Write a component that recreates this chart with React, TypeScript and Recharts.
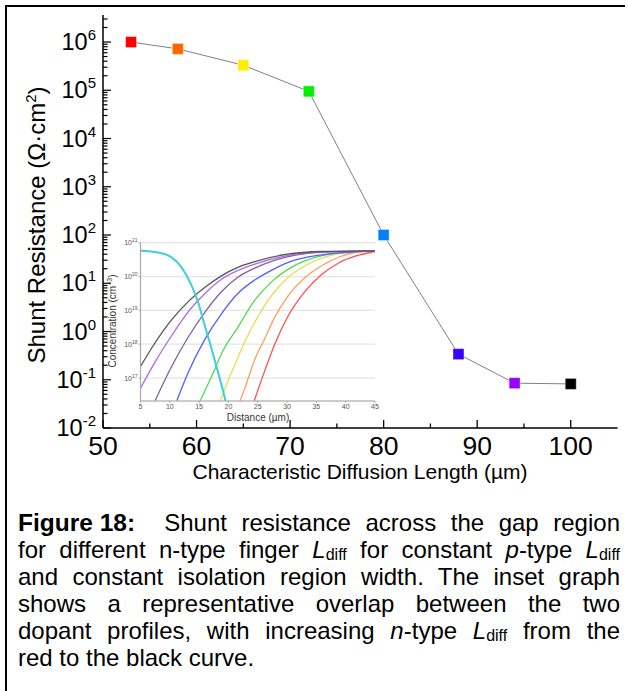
import { LineChart, Line, XAxis, YAxis, CartesianGrid } from 'recharts';

// main plot: n-type finger L_diff (µm) vs shunt resistance (Ω·cm²)
const diffLength = [53, 58, 65, 72, 80, 88, 94, 100];
const shuntResistance = [1e6, 7.2e5, 3.3e5, 9.5e4, 100, 0.34, 0.085, 0.082];
const pointColors = ['#ff0000', '#ff6600', '#ffee00', '#00ee00', '#0080ff', '#3a00ff', '#9900ff', '#000000'];

const xTicks = [50, 55, 60, 65, 70, 75, 80, 85, 90, 95, 100];
const yDecades = [-2, -1, 0, 1, 2, 3, 4, 5, 6];

// inset: dopant profiles, [distance µm, concentration cm^-3]
const curveRed = [[24.4, 2.14e16], [26.2, 1.66e17], [27.9, 1.0e18], [30.2, 6.92e18], [33.1, 3.72e19], [35.9, 1.15e20], [38.8, 2.51e20], [41.6, 3.98e20], [45, 5.5e20]];
const curveOrange = [[22.0, 2.14e16], [23, 6.31e16], [24.5, 3.55e17], [26.2, 1.48e18], [27.9, 6.31e18], [30.2, 2.75e19], [33.1, 9.55e19], [35.9, 2.09e20], [38.8, 3.72e20], [41.6, 5.13e20], [45, 5.75e20]];
const curveYellow = [[18.6, 2.14e16], [20, 8.91e16], [21.6, 3.98e17], [23, 1.41e18], [24.5, 4.47e18], [27.4, 2.82e19], [30.2, 9.55e19], [33.1, 2.09e20], [35.9, 3.47e20], [39.3, 4.9e20], [45, 5.75e20]];
const curveGreen = [[15.2, 2.14e16], [17, 1.0e17], [19.2, 7.08e17], [21.6, 3.16e18], [24.5, 2.0e19], [27.4, 7.08e19], [30.2, 1.66e20], [33.1, 2.95e20], [36, 4.17e20], [40, 5.25e20], [45, 5.75e20]];
const curveBlue = [[11.2, 2.14e16], [13.1, 1.41e17], [16, 1.41e18], [18.8, 7.94e18], [21.6, 3.16e19], [24.5, 7.94e19], [27.5, 1.58e20], [30.2, 2.63e20], [35.9, 4.37e20], [41.6, 5.37e20], [45, 5.75e20]];
const curveSlate = [[7.5, 2.14e16], [10.3, 2.19e17], [13.1, 1.58e18], [16, 8.91e18], [18.8, 3.55e19], [21.6, 9.55e19], [24.5, 1.78e20], [30, 3.8e20], [36, 5.25e20], [45, 5.75e20]];
const curveViolet = [[5, 5.0e16], [7.4, 2.82e17], [10.3, 1.78e18], [13.1, 8.91e18], [16, 3.16e19], [18.8, 8.32e19], [21.6, 1.51e20], [24.5, 2.34e20], [30, 4.17e20], [36, 5.37e20], [45, 5.75e20]];
const curveBlack = [[5, 2.19e17], [7.4, 1.05e18], [10.3, 5.25e18], [13.1, 1.78e19], [16, 4.79e19], [18.8, 1.05e20], [21.6, 1.86e20], [24.5, 2.75e20], [30, 4.57e20], [36, 5.5e20], [45, 5.75e20]];
const curveCyan = [[5, 5.75e20], [8, 5.1e20], [10.3, 3.7e20], [12, 1.86e20], [13.7, 5.5e19], [14.8, 1.8e19], [15.95, 3.6e18], [17.1, 7.6e17], [18.2, 1.55e17], [19.25, 3.2e16], [19.5, 2.1e16]];

const insetXTicks = [5, 10, 15, 20, 25, 30, 35, 40, 45];
const insetDecades = [17, 18, 19, 20, 21];

const FONT = '"Liberation Sans", Arial, sans-serif';
const MAIN = { width: 628, height: 480, left: 103, right: 617.5, top: 15, bottom: 428 };
const INSET = { left: 100, top: 230, width: 285, height: 197, plotLeft: 40.5, plotBottom: 171 };

const mainData = diffLength.map((x, i) => ({ x, r: shuntResistance[i], color: pointColors[i] }));

const yTicks: number[] = [];
yDecades.forEach((d) => {
  yTicks.push(Number((10 ** d).toPrecision(3)));
  for (let m = 2; m <= 9; m++) {
    const v = Number((m * 10 ** d).toPrecision(3));
    if (v < 3.6e6) yTicks.push(v);
  }
});

const insetSeries = [
  { name: 'red', data: curveRed, color: '#ff5050' },
  { name: 'orange', data: curveOrange, color: '#ff9e5e' },
  { name: 'yellow', data: curveYellow, color: '#e6dc50' },
  { name: 'green', data: curveGreen, color: '#4ddd4d' },
  { name: 'blue', data: curveBlue, color: '#5060ff' },
  { name: 'slate', data: curveSlate, color: '#80609f' },
  { name: 'violet', data: curveViolet, color: '#b266e6' },
  { name: 'black', data: curveBlack, color: '#555555' },
];

function isDecade(v: number) {
  const e = Math.log10(v);
  return Math.abs(e - Math.round(e)) < 1e-6;
}

function BottomTick(props: any) {
  const { x, payload } = props;
  const major = payload.value % 10 === 0;
  return (
    <g>
      <line x1={x} x2={x} y1={MAIN.bottom} y2={MAIN.bottom - (major ? 8 : 4.5)} stroke="#000" strokeWidth={1.3} />
      {major && (
        <text x={x} y={MAIN.bottom + 27} textAnchor="middle" fontSize={26.5} fontFamily={FONT} fill="#000">
          {payload.value}
        </text>
      )}
    </g>
  );
}

function TopTick(props: any) {
  const { x, payload } = props;
  const major = payload.value % 10 === 0;
  return <line x1={x} x2={x} y1={MAIN.top} y2={MAIN.top + (major ? 8 : 4.5)} stroke="#000" strokeWidth={1.3} />;
}

function LeftTick(props: any) {
  const { y, payload } = props;
  const major = isDecade(payload.value);
  const e = Math.round(Math.log10(payload.value));
  return (
    <g>
      <line x1={MAIN.left} x2={MAIN.left + (major ? 8 : 4.5)} y1={y} y2={y} stroke="#000" strokeWidth={1.2} />
      {major && (
        <text x={96} y={y + 8} textAnchor="end" fontSize={23.5} fontFamily={FONT} fill="#000">
          10<tspan dy={-10} fontSize={15}>{e}</tspan>
        </text>
      )}
    </g>
  );
}

function RightTick(props: any) {
  const { y, payload } = props;
  const major = isDecade(payload.value);
  return <line x1={MAIN.right} x2={MAIN.right - (major ? 8 : 4.5)} y1={y} y2={y} stroke="#000" strokeWidth={1.2} />;
}

function Square(props: any) {
  const { cx, cy, payload, index } = props;
  return (
    <rect key={`sq-${index}`} x={cx - 5.5} y={cy - 5.5} width={11} height={11} fill={payload.color} stroke="#fff" strokeOpacity={0.4} strokeWidth={1} />
  );
}

function InsetXTick(props: any) {
  const { x, payload } = props;
  return (
    <g>
      <line x1={x} x2={x} y1={INSET.plotBottom} y2={INSET.plotBottom + 2} stroke="#999" strokeWidth={0.8} />
      <text x={x} y={INSET.plotBottom + 8} textAnchor="middle" fontSize={7} fontFamily={FONT} fill="#555">
        {payload.value}
      </text>
    </g>
  );
}

function InsetYTick(props: any) {
  const { y, payload } = props;
  const e = Math.round(Math.log10(payload.value));
  return (
    <g>
      <line x1={INSET.plotLeft} x2={INSET.plotLeft - 2} y1={y} y2={y} stroke="#999" strokeWidth={0.8} />
      <text x={INSET.plotLeft - 3} y={y + 2.5} textAnchor="end" fontSize={7} fontFamily={FONT} fill="#555">
        10<tspan dy={-3} fontSize={5}>{e}</tspan>
      </text>
    </g>
  );
}

function MainChart() {
  const axisLine = { stroke: '#000', strokeWidth: 1.5 };
  return (
    <LineChart width={MAIN.width} height={MAIN.height} data={mainData} margin={{ top: 15, right: 10.5, bottom: 12, left: 0 }}>
      <XAxis dataKey="x" type="number" domain={[50, 105]} ticks={xTicks} interval={0} height={40} tickLine={false} axisLine={axisLine} tick={BottomTick} allowDataOverflow />
      <XAxis xAxisId="top" orientation="top" dataKey="x" type="number" domain={[50, 105]} ticks={xTicks} interval={0} height={0} tickLine={false} axisLine={axisLine} tick={TopTick} allowDataOverflow />
      <YAxis dataKey="r" type="number" scale="log" domain={[0.01, 3.63e6]} ticks={yTicks} interval={0} width={103} tickLine={false} axisLine={axisLine} tick={LeftTick} allowDataOverflow />
      <YAxis yAxisId="right" orientation="right" type="number" scale="log" domain={[0.01, 3.63e6]} ticks={yTicks} interval={0} width={0} tickLine={false} axisLine={axisLine} tick={RightTick} allowDataOverflow />
      <Line type="linear" dataKey="r" stroke="#808080" strokeWidth={1} dot={Square} activeDot={false} isAnimationActive={false} />
    </LineChart>
  );
}

function InsetChart() {
  const frame = { stroke: '#a8a8a8', strokeWidth: 1.2 };
  return (
    <LineChart width={INSET.width} height={INSET.height} margin={{ top: 12.7, right: 10, bottom: 0, left: 0 }}>
      <CartesianGrid vertical={false} stroke="#e4e4e4" strokeWidth={1.2} />
      <XAxis dataKey="x" type="number" domain={[5, 45]} ticks={insetXTicks} interval={0} height={26} tickLine={false} axisLine={frame} tick={InsetXTick} allowDataOverflow />
      <XAxis xAxisId="top" orientation="top" dataKey="x" type="number" domain={[5, 45]} height={0} tick={false} tickLine={false} axisLine={frame} allowDataOverflow />
      <YAxis dataKey="y" type="number" scale="log" domain={[2.1e16, 1e21]} ticks={insetDecades.map((d) => 10 ** d)} interval={0} width={40.5} tickLine={false} axisLine={frame} tick={InsetYTick} allowDataOverflow />
      <YAxis yAxisId="right" orientation="right" type="number" scale="log" domain={[2.1e16, 1e21]} width={0} tick={false} tickLine={false} axisLine={frame} allowDataOverflow />
      {insetSeries.map((s) => (
        <Line key={s.name} data={s.data.map(([x, y]) => ({ x, y }))} type="monotone" dataKey="y" stroke={s.color} strokeWidth={1.3} dot={false} activeDot={false} isAnimationActive={false} />
      ))}
      <Line data={curveCyan.map(([x, y]) => ({ x, y }))} type="monotone" dataKey="y" stroke="#3fcfd6" strokeWidth={2} dot={false} activeDot={false} isAnimationActive={false} />
    </LineChart>
  );
}

const sub = { fontSize: 16, fontStyle: 'normal' as const, position: 'relative' as const, top: 2, lineHeight: 0 };
const captionLine = { height: 27, textAlign: 'justify' as const, textAlignLast: 'justify' as const };

export default function App() {
  return (
    <div style={{ position: 'absolute', left: 0, top: 0, width: 628, height: 691, background: '#fff', overflow: 'hidden', fontFamily: FONT, color: '#000' }}>
      <div style={{ position: 'absolute', left: 5, top: 5, width: 618, height: 720, borderTop: '2.5px solid #000', borderLeft: '2.5px solid #000' }} />
      <div style={{ position: 'absolute', left: 0, top: 0 }}>
        <MainChart />
      </div>
      <div style={{ position: 'absolute', left: 37, top: 225, transform: 'translate(-50%, -50%) rotate(-90deg)', whiteSpace: 'nowrap', fontSize: 24, lineHeight: 1 }}>
        Shunt Resistance (Ω·cm<sup style={{ fontSize: 15, lineHeight: 0 }}>2</sup>)
      </div>
      <div style={{ position: 'absolute', left: 360, top: 471, transform: 'translate(-50%, -50%)', whiteSpace: 'nowrap', fontSize: 21, lineHeight: 1 }}>
        Characteristic Diffusion Length (µm)
      </div>
      <div style={{ position: 'absolute', left: INSET.left, top: INSET.top }}>
        <InsetChart />
      </div>
      <div style={{ position: 'absolute', left: 113, top: 321, transform: 'translate(-50%, -50%) rotate(-90deg)', whiteSpace: 'nowrap', fontSize: 10, color: '#333', lineHeight: 1 }}>
        Concentration (cm<sup style={{ fontSize: 7, lineHeight: 0 }}>−3</sup>)
      </div>
      <div style={{ position: 'absolute', left: 258, top: 418, transform: 'translate(-50%, -50%)', whiteSpace: 'nowrap', fontSize: 10, color: '#333', lineHeight: 1 }}>
        Distance (µm)
      </div>
      <div style={{ position: 'absolute', left: 18, top: 509, width: 602, fontSize: 24, lineHeight: '27px' }}>
        <div style={captionLine}>
          <b style={{ display: 'inline-block', fontSize: 24.5 }}>Figure 18:</b>&nbsp; Shunt resistance across the gap region
        </div>
        <div style={captionLine}>
          for different n-type finger <i>L</i><span style={sub}>diff</span> for constant <i>p</i>-type <i>L</i><span style={sub}>diff</span>
        </div>
        <div style={captionLine}>and constant isolation region width. The inset graph</div>
        <div style={captionLine}>shows a representative overlap between the two</div>
        <div style={captionLine}>
          dopant profiles, with increasing <i>n</i>-type <i>L</i><span style={sub}>diff</span> from the
        </div>
        <div style={{ height: 27 }}>red to the black curve.</div>
      </div>
    </div>
  );
}
